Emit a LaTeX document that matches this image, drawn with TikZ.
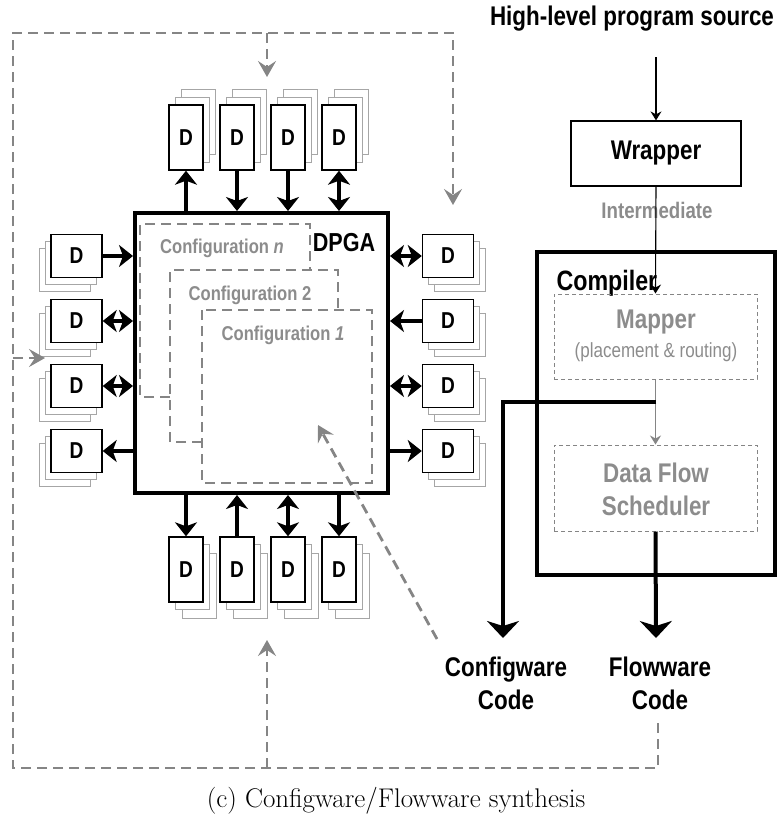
\documentclass[tikz,border=0pt]{standalone}
\usepackage{fontspec}
\newfontfamily\hv[FakeStretch=0.83]{Liberation Sans}
\usetikzlibrary{arrows.meta}
\definecolor{fbgray}{HTML}{858585}
\definecolor{cfggray}{HTML}{8C8C8C}
\definecolor{sheet}{HTML}{A6A6A6}

\tikzset{
  dfront/.style={draw=black, line width=1.4pt, fill=white, inner sep=0pt,
    font=\hv\bfseries\fontsize{23}{26}\selectfont},
  dback/.style={draw=sheet, line width=1pt, fill=white, inner sep=0pt},
  hsz/.style={minimum width=51pt, minimum height=43pt},
  vsz/.style={minimum width=34pt, minimum height=65pt},
  bus/.style={line width=4pt, >={Stealth[length=14pt,width=22pt,inset=4pt]}},
  outbus/.style={line width=4pt, >={Stealth[length=17pt,width=32pt,inset=5pt]}},
  fb/.style={draw=fbgray, line width=2.8pt, dash pattern=on 10pt off 6pt,
    >={Stealth[length=16pt,width=18pt,inset=6pt]}},
  cfgline/.style={draw=fbgray, line width=2.4pt, dash pattern=on 10pt off 6pt},
  cfglabel/.style={text=cfggray, font=\hv\bfseries\fontsize{20}{24}\selectfont},
  big/.style={font=\hv\bfseries\fontsize{27}{33}\selectfont},
  thin/.style={line width=1.1pt, >={Stealth[length=9pt,width=11pt,inset=3pt]}},
  stage/.style={draw=fbgray, line width=1pt, dash pattern=on 4pt off 3pt,
    minimum width=203pt, minimum height=85pt, inner sep=0pt},
}

\begin{document}
\begin{tikzpicture}[x=1pt, y=-1pt]
\useasboundingbox (0,0) rectangle (780,823);

% ---------------- DPGA core ----------------
\node[draw, line width=4pt, minimum width=253pt, minimum height=280pt, inner sep=0pt]
  (dpga) at (261.5,353) {};
\node[font=\hv\bfseries\fontsize{26}{32}\selectfont] (dpgalabel) at (344,243) {DPGA};

% stacked configuration planes
\draw[cfgline] (170,397) -- (140,397) -- (140,224) -- (310,224) -- (310,270);
\draw[cfgline] (202,442) -- (170,442) -- (170,270) -- (338,270) -- (338,310);
\draw[cfgline] (202,310) rectangle (372,483);
\node[cfglabel] (cfgn) at (222,248) {Configuration \textit{n}};
\node[cfglabel] (cfg2) at (250,295) {Configuration 2};
\node[cfglabel] (cfg1) at (283,335) {Configuration \textit{1}};

% ---------------- data memory stacks ----------------
\foreach \i/\x in {1/186,2/237,3/288,4/339} {
  \node[dback,vsz] (t\i-c) at ({\x+12},{137.5-16}) {};
  \node[dback,vsz] (t\i-b) at ({\x+6},{137.5-8}) {};
  \node[dfront,vsz] (t\i) at (\x,137.5) {D};
  \node[dback,vsz] (b\i-c) at ({\x+13},{569.5+16}) {};
  \node[dback,vsz] (b\i-b) at ({\x+6},{569.5+7}) {};
  \node[dfront,vsz] (b\i) at (\x,569.5) {D};
}
\foreach \i/\y in {1/256,2/321,3/386,4/451} {
  \node[dback,hsz] (l\i-c) at ({76.5-12},{\y+14}) {};
  \node[dback,hsz] (l\i-b) at ({76.5-6},{\y+7}) {};
  \node[dfront,hsz] (l\i) at (76.5,\y) {D};
  \node[dback,hsz] (r\i-c) at ({448+12},{\y+14}) {};
  \node[dback,hsz] (r\i-b) at ({448+6},{\y+7}) {};
  \node[dfront,hsz] (r\i) at (448,\y) {D};
}

% ports of the DPGA
\draw[bus,->]  (t1.south |- dpga.north) -- (t1.south);
\draw[bus,->]  (t2.south) -- (t2.south |- dpga.north);
\draw[bus,->]  (t3.south) -- (t3.south |- dpga.north);
\draw[bus,<->] (t4.south) -- (t4.south |- dpga.north);

\draw[bus,->]  (b1.north |- dpga.south) -- (b1.north);
\draw[bus,->]  (b2.north) -- (b2.north |- dpga.south);
\draw[bus,<->] (b3.north) -- (b3.north |- dpga.south);
\draw[bus,->]  (b4.north |- dpga.south) -- (b4.north);

\draw[bus,->]  (l1.east) -- (l1.east -| dpga.west);
\draw[bus,<->] (l2.east) -- (l2.east -| dpga.west);
\draw[bus,<->] (l3.east) -- (l3.east -| dpga.west);
\draw[bus,->]  (l4.east -| dpga.west) -- (l4.east);

\draw[bus,<->] (r1.west) -- (r1.west -| dpga.east);
\draw[bus,->]  (r2.west) -- (r2.west -| dpga.east);
\draw[bus,<->] (r3.west) -- (r3.west -| dpga.east);
\draw[bus,->]  (r4.west -| dpga.east) -- (r4.west);

% ---------------- compilation flow ----------------
\node[big] (src) at (632,19) {High-level program source};
\coordinate (srcend) at (656,57);
\node[draw, line width=1.2pt, minimum width=170pt, minimum height=65pt, inner sep=0pt, big]
  (wrap) at (656,153.5) {Wrapper};
\draw[thin,->] (srcend) -- (wrap.north);

\node[draw, line width=4pt, minimum width=238pt, minimum height=323pt, inner sep=0pt]
  (comp) at (656,413.5) {};
\node[anchor=base west, font=\hv\bfseries\fontsize{28}{33}\selectfont] (complabel) at (553,290) {Compiler};

\node[stage] (map) at (655.5,336.5) {};
\node[text=cfggray, big] (maptxt) at (656,322) {Mapper};
\node[text=cfggray, font=\hv\fontsize{20.5}{24}\selectfont] (mapsub) at (656,352) {(placement \& routing)};

\node[stage, minimum height=86pt] (dfs) at (655.5,488) {};
\node[text=cfggray, big, align=center] (dfstxt) at (656,489) {Data Flow\\Scheduler};

\node[text=cfggray, font=\hv\bfseries\fontsize{22.5}{26}\selectfont] (inter) at (657,210) {Intermediate};
\draw[thin,->] (wrap.south) -- (map.north);
\draw[thin, draw=fbgray, ->] (map.south) -- (dfs.north);

% outputs
\node[big, align=center] (cfgw) at (506,683) {Configware\\Code};
\node[big, align=center] (flow) at (660,683) {Flowware\\Code};
\coordinate (tap) at (656,402);
\coordinate (cfgtip) at (503,638);
\coordinate (flowtip) at (656,638);
\draw[outbus,->] (tap) -| (cfgtip);
\draw[outbus,->] (dfs.south) -- (flowtip);

% ---------------- feedback of the generated code ----------------
\coordinate (fbstart) at (658,723);
\coordinate (fbSE) at (658,768);
\coordinate (fbSW) at (13,768);
\coordinate (fbNW) at (13,33);
\coordinate (fbNE) at (453,33);
\coordinate (rightIn) at (453,205);
\coordinate (topIn) at (267,77);
\coordinate (leftIn) at (45,358);
\coordinate (botIn) at (267,640);
\coordinate (cwStart) at (437,639);
\coordinate (cwIn) at (318,425);

\draw[fb,->] (fbstart) -- (fbSE) -- (fbSW) -- (fbNW) -- (fbNE) -- (rightIn);
\draw[fb,->] (fbNW -| topIn) -- (topIn);
\draw[fb,->] (fbNW |- leftIn) -- (leftIn);
\draw[fb,->] (fbSW -| botIn) -- (botIn);
\draw[fb,->] (cwStart) -- (cwIn);

% caption
\node[font=\fontsize{27}{31}\selectfont] (caption) at (396,801) {(c) Configware/Flowware synthesis};
\end{tikzpicture}
\end{document}
